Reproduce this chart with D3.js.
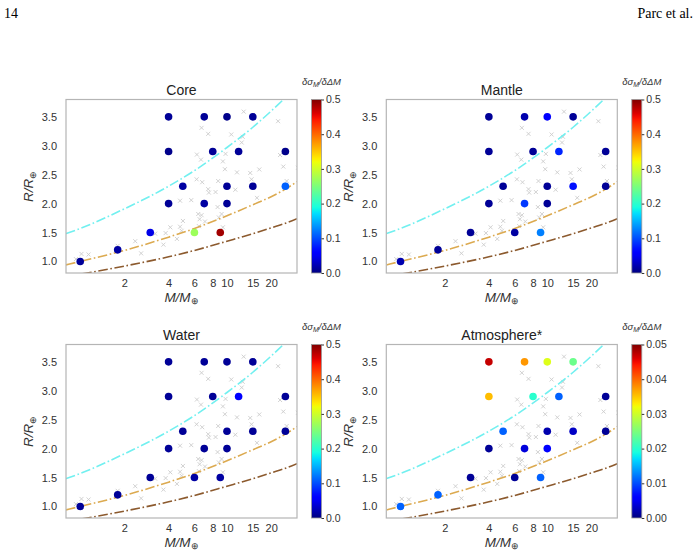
<!DOCTYPE html>
<html><head><meta charset="utf-8">
<script src="https://cdn.jsdelivr.net/npm/d3@7"></script>
<style>body{margin:0;background:#fff}</style></head>
<body><svg id="c" width="697" height="554"></svg>
<script>
// ---- data ----
const planetMass   = [1, 1.8, 3, 4, 4, 4, 5, 6, 7, 7, 8, 9, 10, 10, 10, 12, 15, 15, 25, 25];
const planetRadius = [1, 1.2, 1.5, 3.5, 2.9, 2.0, 2.3, 1.5, 3.5, 2.0, 2.9, 1.5, 3.5, 2.3, 2.0, 2.9, 3.5, 2.3, 2.9, 2.3];
const coreValues   = [0.01,0.015,0.045,0.01,0.005,0.01,0.015,0.27,0.01,0.015,0.01,0.485,0.005,0.01,0.01,0.01,0.01,0.01,0.005,0.11];
const mantleValues = [0.02,0.01,0.01,0.01,0.01,0.01,0.01,0.015,0.02,0.09,0.01,0.125,0.06,0.01,0.01,0.08,0.01,0.07,0.01,0.01];
const waterValues  = [0.01,0.01,0.01,0.01,0.01,0.01,0.01,0.015,0.01,0.01,0.01,0.015,0.01,0.01,0.01,0.06,0.01,0.01,0.01,0.01];
const atmoValues   = [0.011,0.011,0.001,0.047,0.0355,0.001,0.011,0.001,0.0375,0.004,0.02,0.011,0.031,0.002,0.006,0.011,0.024,0.003,0.001,0.001];

const obsMass   = [13.0,22.3,6.71,7.45,10.7,12.8,12.6,6.24,6.65,9.78,9.38,9.68,11.7,14.4,16.6,24.2,23.0,6.21,6.78,8.71,7.45,7.53,8.36,11.4,14.7,25.5,16.0,4.79,5.71,6.37,6.71,6.51,8.63,9.19,8.81,5.01,4.11,4.79,4.91,6.44,7.08,9.38,3.82,3.24,4.56,3.69,2.60,2.37,1.80,1.14,1.02,0.935,30.5];
const obsRadius = [3.59,3.425,3.31,3.206,3.195,3.155,3.056,2.848,2.76,2.86,2.73,2.595,2.54,2.53,2.59,2.64,2.84,2.42,2.37,2.39,2.25,2.19,2.20,2.24,2.42,2.39,2.10,2.05,2.06,1.82,1.80,1.73,1.94,1.82,1.76,1.70,1.59,1.60,1.53,1.61,1.69,1.59,1.49,1.48,1.39,1.29,1.14,1.35,1.27,1.12,1.13,1.04,2.62];

const curveMass   = [0.8, 1, 2, 4, 6, 10, 15, 20, 25, 30];
const waterRadius = [1.48, 1.57, 1.91, 2.30, 2.57, 2.97, 3.32, 3.60, 3.83, 4.01];
const earthRadius = [0.94, 1.00, 1.19, 1.42, 1.57, 1.79, 1.98, 2.12, 2.25, 2.38];
const ironRadius  = [0.74, 0.78, 0.92, 1.08, 1.19, 1.35, 1.48, 1.58, 1.66, 1.74];

const xTicks = [2, 4, 6, 8, 10, 15, 20];
const yTicks = [1.0, 1.5, 2.0, 2.5, 3.0, 3.5];
const panelTitles = ["Core", "Mantle", "Water", "Atmosphere*"];
const panelValues = [coreValues, mantleValues, waterValues, atmoValues];
const cbarMax = [0.5, 0.5, 0.5, 0.05];
const cbarTicks = [[0,0.1,0.2,0.3,0.4,0.5],[0,0.1,0.2,0.3,0.4,0.5],[0,0.1,0.2,0.3,0.4,0.5],[0,0.01,0.02,0.03,0.04,0.05]];

// ---- jet colormap (matplotlib segments) ----
function seg(pts, t){
  for (let i=1;i<pts.length;i++){ if (t<=pts[i][0]){ const a=pts[i-1], b=pts[i]; return a[1]+(b[1]-a[1])*(t-a[0])/(b[0]-a[0]); } }
  return pts[pts.length-1][1];
}
const jR=[[0,0],[0.35,0],[0.66,1],[0.89,1],[1,0.5]];
const jG=[[0,0],[0.125,0],[0.375,1],[0.64,1],[0.91,0],[1,0]];
const jB=[[0,0.5],[0.11,1],[0.34,1],[0.65,0],[1,0]];
function jet(t){ t=Math.max(0,Math.min(1,t)); return d3.rgb(255*seg(jR,t),255*seg(jG,t),255*seg(jB,t)).formatHex(); }

// ---- layout ----
const svg = d3.select("#c");
svg.append("rect").attr("width",697).attr("height",554).attr("fill","#fff");
svg.append("text").attr("x",4).attr("y",18).attr("font-family","Liberation Serif").attr("font-size",14).text("14");
svg.append("text").attr("x",693).attr("y",18).attr("text-anchor","end").attr("font-family","Liberation Serif").attr("font-size",14).text("Parc et al.");

const W = 231, H = 173.5;
const origins = [[66,99.5],[386.3,99.5],[66,344.5],[386.3,344.5]];
const font = "Liberation Sans, Arial, sans-serif";

const defs = svg.append("defs");
const grad = defs.append("linearGradient").attr("id","jetg").attr("x1",0).attr("y1",1).attr("x2",0).attr("y2",0);
d3.range(0,1.0001,0.02).forEach(t=>grad.append("stop").attr("offset",t).attr("stop-color",jet(t)));

origins.forEach(([px,py],k)=>{
  const g = svg.append("g").attr("transform",`translate(${px},${py})`);
  const x = d3.scaleLog().domain([0.8,30]).range([0,W]);
  const y = d3.scaleLinear().domain([0.8,3.8]).range([H,0]);
  const clipId = "clip"+k;
  defs.append("clipPath").attr("id",clipId).append("rect").attr("width",W).attr("height",H);
  const pg = g.append("g").attr("clip-path",`url(#${clipId})`);

  // observed planets (grey crosses)
  const s = 2;
  pg.selectAll("path.obs").data(obsMass.map((m,i)=>[m,obsRadius[i]])).enter().append("path")
    .attr("d",d=>{const cx=x(d[0]), cy=y(d[1]); return `M${cx-s},${cy-s}L${cx+s},${cy+s}M${cx-s},${cy+s}L${cx+s},${cy-s}`;})
    .attr("stroke","#cccccc").attr("stroke-width",0.9).attr("fill","none");

  // composition curves
  const line = d3.line().x(d=>x(d[0])).y(d=>y(d[1])).curve(d3.curveMonotoneX);
  [[waterRadius,"#72f0f0"],[earthRadius,"#dcaa50"],[ironRadius,"#8c5a2e"]].forEach(([rr,col])=>{
    pg.append("path").attr("d",line(curveMass.map((m,i)=>[m,rr[i]])))
      .attr("fill","none").attr("stroke",col).attr("stroke-width",1.6)
      .attr("stroke-dasharray","9.6,2.6,1.6,2.6");
  });

  // model points
  const vals = panelValues[k], vmax = cbarMax[k];
  pg.selectAll("circle").data(planetMass.map((m,i)=>[m,planetRadius[i],vals[i]])).enter().append("circle")
    .attr("cx",d=>x(d[0])).attr("cy",d=>y(d[1])).attr("r",3.8)
    .attr("fill",d=>jet(d[2]/vmax));

  // frame
  g.append("rect").attr("width",W).attr("height",H).attr("fill","none").attr("stroke","#b5b5b5").attr("stroke-width",1.2);

  // ticks
  const xa = g.append("g").attr("transform",`translate(0,${H})`)
    .call(d3.axisBottom(x).tickValues(xTicks).tickFormat(d3.format("d")).tickSize(0).tickPadding(6));
  const ya = g.append("g").call(d3.axisLeft(y).tickValues(yTicks).tickFormat(d3.format(".1f")).tickSize(0).tickPadding(9));
  [xa,ya].forEach(a=>{ a.select(".domain").remove(); a.selectAll("text").attr("font-family",font).attr("font-size",11).attr("fill","#333"); });

  // title
  g.append("text").attr("x",W/2).attr("y",-5).attr("text-anchor","middle").attr("font-family",font).attr("font-size",14).attr("fill","#222").text(panelTitles[k]);
  // axis labels
  const xl = g.append("text").attr("x",W/2).attr("y",H+28.5).attr("text-anchor","middle").attr("font-family",font).attr("font-size",13.5).attr("font-style","italic").attr("fill","#333");
  xl.append("tspan").text("M/M");
  xl.append("tspan").attr("font-size",9).attr("dy",2.5).attr("font-style","normal").text("⊕");
  const yl = g.append("text").attr("transform",`translate(-33,${H/2}) rotate(-90)`).attr("text-anchor","middle").attr("font-family",font).attr("font-size",13.5).attr("font-style","italic").attr("fill","#333");
  yl.append("tspan").text("R/R");
  yl.append("tspan").attr("font-size",9).attr("dy",2.5).attr("font-style","normal").text("⊕");

  // colorbar
  const cw = 10;
  const cb = g.append("g").attr("transform",`translate(${W+14.5},0)`);
  cb.append("rect").attr("width",cw).attr("height",H).attr("fill","url(#jetg)").attr("stroke","#999").attr("stroke-width",0.8);
  const cs = d3.scaleLinear().domain([0,vmax]).range([H,0]);
  const ca = cb.append("g").attr("transform",`translate(${cw},0)`)
    .call(d3.axisRight(cs).tickValues(cbarTicks[k]).tickFormat(d3.format(vmax<0.1?".2f":".1f")).tickSize(2.5).tickPadding(2));
  ca.select(".domain").remove();
  ca.selectAll("line").attr("stroke","#333");
  ca.selectAll("text").attr("font-family",font).attr("font-size",10.5).attr("fill","#333");
  const ct = cb.append("text").attr("x",cw/2+5).attr("y",-15).attr("text-anchor","middle").attr("font-family",font).attr("font-size",9.5).attr("font-style","italic").attr("fill","#333");
  ct.append("tspan").text("δσ");
  ct.append("tspan").attr("font-size",7).attr("dy",2).text("M");
  ct.append("tspan").attr("dy",-2).text("/δΔM");
});
</script></body></html>
